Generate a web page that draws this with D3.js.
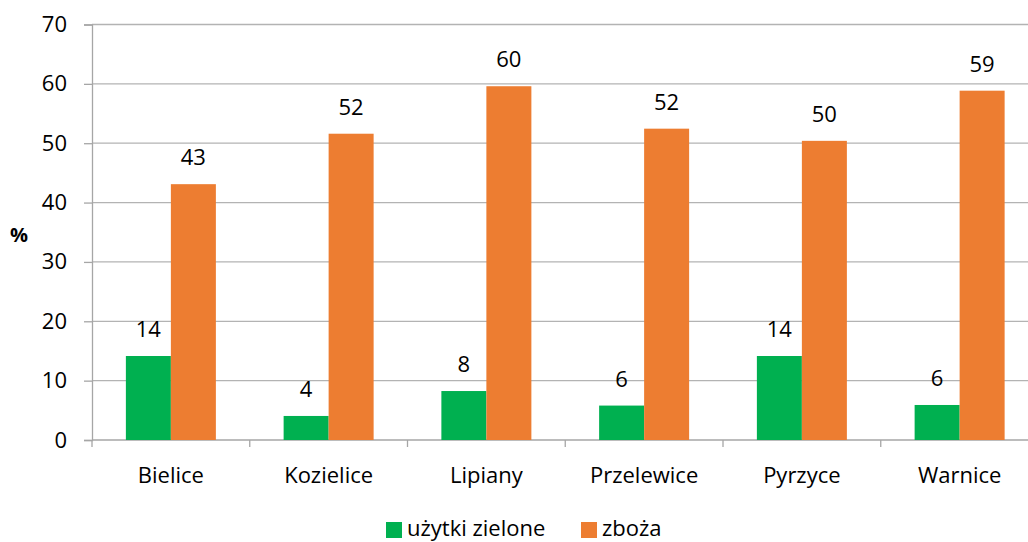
<!DOCTYPE html>
<html>
<head>
<meta charset="utf-8">
<script src="https://cdn.jsdelivr.net/npm/d3@7"></script>
<style>
  html, body { margin: 0; padding: 0; background: #fff; overflow: hidden; }
  svg { display: block; font-family: "Open Sans", "Noto Sans", sans-serif; }
</style>
</head>
<body>
<svg id="chart" width="1028" height="542"></svg>
<script>
// Share of land use per commune (%)
const categories = ["Bielice", "Kozielice", "Lipiany", "Przelewice", "Pyrzyce", "Warnice"];
const seriesNames = ["użytki zielone", "zboża"];
const grassland = [14.15, 4.05, 8.25, 5.8, 14.15, 5.9];
const cereals = [43.1, 51.6, 59.6, 52.45, 50.4, 58.85];
const yTicks = [0, 10, 20, 30, 40, 50, 60, 70];
const colors = ["#00b050", "#ed7d31"];

const fontSize = 22;
const svg = d3.select("#chart");
const plotLeft = 92, plotRight = 1038.5, plotTop = 24.5, plotBottom = 440;

const x = d3.scaleBand().domain(categories).range([plotLeft, plotRight]).paddingInner(0).paddingOuter(0);
const x1 = d3.scaleBand().domain(seriesNames).range([0, 90]);
const y = d3.scaleLinear().domain([0, 70]).range([plotBottom, plotTop]);

// horizontal gridlines
svg.append("g")
  .selectAll("line")
  .data(yTicks.filter(d => d > 0))
  .join("line")
  .attr("x1", plotLeft).attr("x2", plotRight)
  .attr("y1", d => y(d)).attr("y2", d => y(d))
  .attr("stroke", "#b3b3b3").attr("stroke-width", 1.3);

// y axis
const yAxis = svg.append("g")
  .attr("transform", `translate(${plotLeft},0)`)
  .call(d3.axisLeft(y).tickValues(yTicks).tickSize(8).tickPadding(17));
yAxis.select(".domain").attr("stroke", "#a6a6a6").attr("stroke-width", 1.3);
yAxis.selectAll(".tick line").attr("stroke", "#a6a6a6").attr("stroke-width", 1.3);
yAxis.selectAll(".tick text").attr("font-size", fontSize).attr("fill", "#000")
  .attr("font-family", "'Open Sans', sans-serif");

// x axis with ticks on category boundaries
const xAxis = svg.append("g").attr("transform", `translate(0,${plotBottom})`);
xAxis.append("line").attr("x1", plotLeft).attr("x2", plotRight).attr("y1", 0).attr("y2", 0)
  .attr("stroke", "#a6a6a6").attr("stroke-width", 1.3);
const bounds = categories.map(c => x(c)).concat([plotRight]);
xAxis.selectAll("line.b").data(bounds).join("line").attr("class", "b")
  .attr("x1", d => d).attr("x2", d => d).attr("y1", 0).attr("y2", 7)
  .attr("stroke", "#a6a6a6").attr("stroke-width", 1.3);
xAxis.selectAll("text").data(categories).join("text")
  .attr("x", d => x(d) + x.bandwidth() / 2).attr("y", 43)
  .attr("text-anchor", "middle").attr("font-size", fontSize).attr("fill", "#000")
  .text(d => d);

// bars
const rows = categories.map((c, i) => ({ c, vals: [grassland[i], cereals[i]] }));
const groupOffset = (x.bandwidth() - 90) / 2;
const groups = svg.append("g").selectAll("g").data(rows).join("g")
  .attr("transform", d => `translate(${x(d.c) + groupOffset},0)`);
groups.selectAll("rect").data(d => d.vals.map((v, j) => ({ v, s: seriesNames[j], j })))
  .join("rect")
  .attr("x", d => x1(d.s)).attr("width", x1.bandwidth())
  .attr("y", d => y(d.v)).attr("height", d => plotBottom - y(d.v))
  .attr("fill", d => colors[d.j]);
groups.selectAll("text").data(d => d.vals.map((v, j) => ({ v, s: seriesNames[j], j })))
  .join("text")
  .attr("x", d => x1(d.s) + x1.bandwidth() / 2)
  .attr("y", d => y(d.v) - 19)
  .attr("text-anchor", "middle").attr("font-size", fontSize).attr("fill", "#000")
  .text(d => d3.format(".0f")(d.v));

// axis title
svg.append("text").attr("x", 19).attr("y", 242).attr("text-anchor", "middle")
  .attr("font-size", 20).attr("font-weight", "bold").attr("fill", "#000").text("%");

// legend
const legend = svg.append("g");
const legendPos = [386, 581];
seriesNames.forEach((s, i) => {
  legend.append("rect").attr("x", legendPos[i]).attr("y", 522).attr("width", 16).attr("height", 16)
    .attr("fill", colors[i]);
  legend.append("text").attr("x", legendPos[i] + 21).attr("y", 535.5)
    .attr("font-size", fontSize).attr("fill", "#000").text(s);
});
</script>
</body>
</html>
